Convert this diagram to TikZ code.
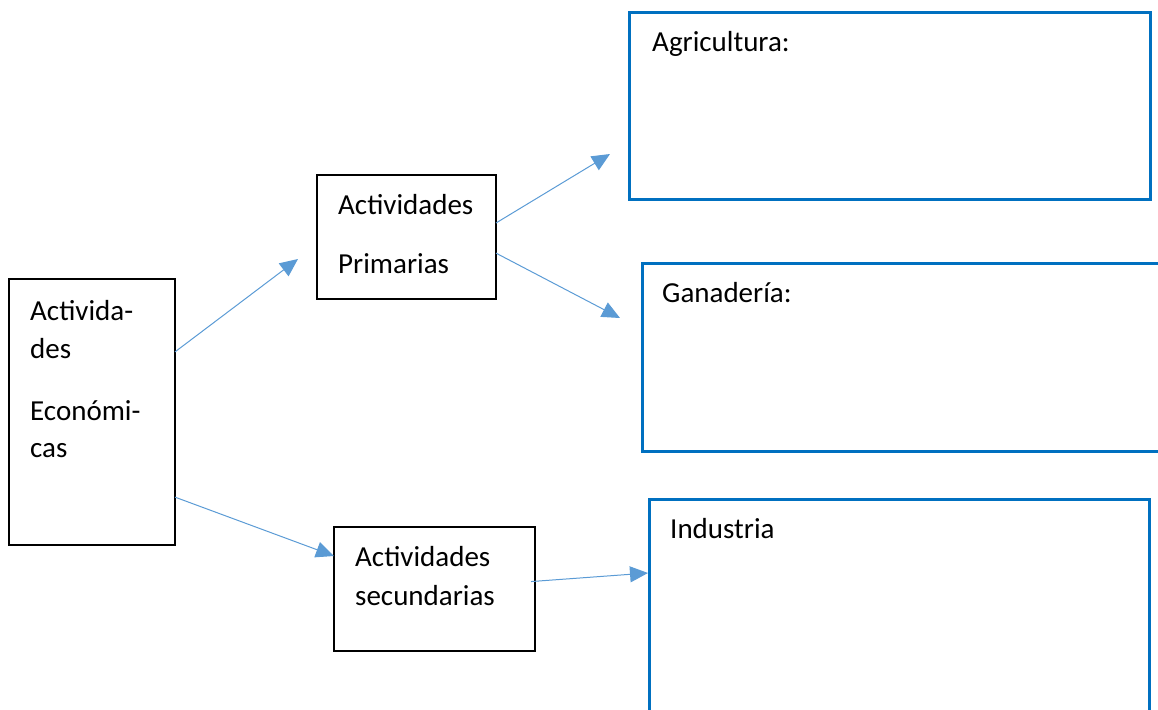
\documentclass[tikz,border=0pt]{standalone}
\usepackage{fontspec}
\setmainfont{Carlito}
\usetikzlibrary{arrows.meta,calc}
\definecolor{boxblue}{HTML}{0070C0}
\definecolor{arrblue}{HTML}{5B9BD5}
\begin{document}
\begin{tikzpicture}[x=1pt,y=-1pt,
  blackbox/.style={draw=black,line width=1.8pt,inner sep=0pt,outer sep=0pt},
  bluebox/.style={draw=boxblue,line width=3pt,inner sep=0pt,outer sep=0pt},
  txt/.style={anchor=base west,inner sep=0pt,font=\fontsize{29}{35}\selectfont},
  conn/.style={draw=arrblue,line width=1pt,-{Triangle[length=18pt,width=16pt]}}]
\useasboundingbox (0,0) rectangle (1158,709);
% boxes
\node[blackbox,minimum width=166pt,minimum height=266pt] (econ) at (92,412) {};
\node[blackbox,minimum width=179pt,minimum height=124pt] (prim) at (406.5,237) {};
\node[blackbox,minimum width=201pt,minimum height=124pt] (sec) at (434.5,589) {};
\node[bluebox,minimum width=521pt,minimum height=186pt] (agri) at (889.5,106) {};
\node[bluebox,minimum width=530pt,minimum height=188pt] (gana) at (907,357) {};
\node[bluebox,minimum width=500pt,minimum height=240pt] (indu) at (899,619) {};
% texts
\node[txt] (t1) at (30,320) {Activida-};
\node[txt] (t2) at (30,358) {des};
\node[txt] (t3) at (30,420) {Económi-};
\node[txt] (t4) at (30,457) {cas};
\node[txt] (t5) at (338,214) {Actividades};
\node[txt] (t6) at (338,273) {Primarias};
\node[txt] (t7) at (355,566) {Actividades};
\node[txt] (t8) at (355,605) {secundarias};
\node[txt] (t9) at (652,52) {Agricultura:};
\node[txt] (t10) at (662,302) {Ganadería:};
\node[txt] (t11) at (670,538) {Industria};
% arrow tips
\coordinate (e1) at (298,259);
\coordinate (e2) at (334,556);
\coordinate (e3) at (610,154);
\coordinate (e4) at (620,318);
\coordinate (e5) at (648,573);
% connectors
\draw[conn] ($(econ.north east)!0.274!(econ.south east)$) -- (e1);
\draw[conn] ($(econ.north east)!0.82!(econ.south east)$) -- (e2);
\draw[conn] ($(prim.north east)!0.387!(prim.south east)$) -- (e3);
\draw[conn] ($(prim.north east)!0.63!(prim.south east)$) -- (e4);
\draw[conn] ($(sec.north east)!0.44!(sec.south east)+(-4,0)$) -- (e5);
\end{tikzpicture}
\end{document}
